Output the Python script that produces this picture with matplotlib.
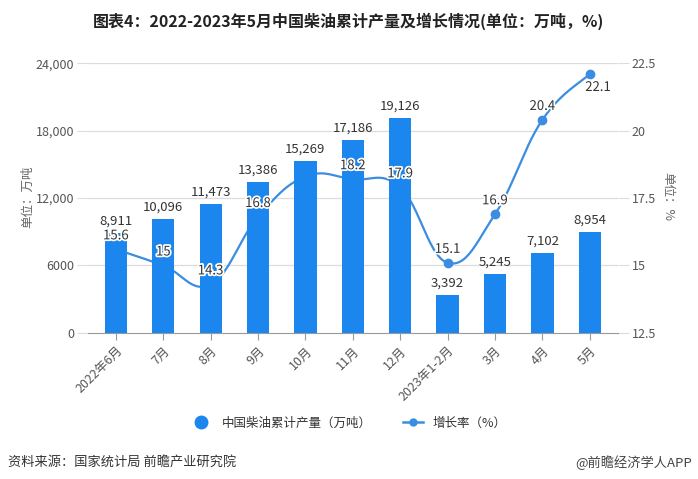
import numpy as np
import matplotlib
matplotlib.use("Agg")
import matplotlib.pyplot as plt
from matplotlib.lines import Line2D
import matplotlib.patheffects as pe

plt.rcParams['font.family'] = ['Noto Sans CJK SC', 'DejaVu Sans']

categories = ["2022年6月", "7月", "8月", "9月", "10月", "11月", "12月",
              "2023年1-2月", "3月", "4月", "5月"]
production = [8911, 10096, 11473, 13386, 15269, 17186, 19126, 3392, 5245, 7102, 8954]
growth = [15.6, 15.0, 14.3, 16.8, 18.3, 18.2, 17.9, 15.1, 16.9, 20.4, 22.1]
growth_labels = ["15.6", "15", "14.3", "16.8", "", "18.2", "17.9", "15.1", "16.9", "20.4", "22.1"]
left_ticks = [0, 6000, 12000, 18000, 24000]
left_ticklabels = ["0", "6000", "12,000", "18,000", "24,000"]
right_ticks = [12.5, 15, 17.5, 20, 22.5]
right_ticklabels = ["12.5", "15", "17.5", "20", "22.5"]

BAR = "#1a86ee"
LINE = "#3a8de0"
TXT = "#333333"
GRID = "#dcdcdc"

fig = plt.figure(figsize=(6.98, 4.79), dpi=100)
ax = fig.add_axes([0.126, 0.305, 0.759, 0.563])
ax2 = ax.twinx()
ax.set_zorder(ax2.get_zorder() + 1)
ax.patch.set_visible(False)

x = np.arange(len(categories))

# smooth curve (bezier through points)
def smooth(xs, ys, k=0.2, n=30):
    xs = np.asarray(xs, float); ys = np.asarray(ys, float)
    ox, oy = [], []
    m = len(xs)
    for i in range(m - 1):
        p0 = np.array([xs[max(i - 1, 0)], ys[max(i - 1, 0)]])
        p1 = np.array([xs[i], ys[i]])
        p2 = np.array([xs[i + 1], ys[i + 1]])
        p3 = np.array([xs[min(i + 2, m - 1)], ys[min(i + 2, m - 1)]])
        c1 = p1 + (p2 - p0) * k
        c2 = p2 - (p3 - p1) * k
        t = np.linspace(0, 1, n)[:, None]
        pts = (1 - t) ** 3 * p1 + 3 * (1 - t) ** 2 * t * c1 + 3 * (1 - t) * t ** 2 * c2 + t ** 3 * p2
        ox.extend(pts[:, 0]); oy.extend(pts[:, 1])
    return np.array(ox), np.array(oy)

sx, sy = smooth(x, growth)
ax2.plot(sx, sy, color=LINE, lw=1.6, zorder=2)
ax2.plot(x, growth, 'o', color=LINE, ms=6, zorder=3)
ax2.set_ylim(12.5, 22.5)
ax2.set_yticks(right_ticks)
ax2.set_yticklabels(right_ticklabels)

bars = ax.bar(x, production, width=0.47, color=BAR, zorder=3)
ax.set_ylim(0, 24000)
ax.set_xlim(-0.59, 10.59)
ax.set_yticks(left_ticks)
ax.set_yticklabels(left_ticklabels)
ax.set_xticks(x)
ax.set_xticklabels(categories, rotation=45, ha='right', rotation_mode='anchor')

ax2.grid(False)
for v in left_ticks[1:]:
    ax2.axhline(12.5 + v / 24000 * 10, color=GRID, lw=0.9, zorder=0)

for a in (ax, ax2):
    for s in a.spines.values():
        s.set_visible(False)
ax.spines['bottom'].set_visible(True)
ax.spines['bottom'].set_color("#999999")
ax.tick_params(axis='y', length=8, color=GRID, labelsize=9, labelcolor="#555555", pad=2)
ax2.tick_params(axis='y', length=8, color=GRID, labelsize=9, labelcolor="#555555", pad=2)
ax.tick_params(axis='x', length=5, color="#999999", labelsize=9, labelcolor="#555555", pad=3)

for xi, v in zip(x, production):
    ax.annotate(f"{v:,}", (xi, v), xytext=(0, 4), textcoords='offset points',
                ha='center', va='bottom', fontsize=9.5, color=TXT, zorder=6)

for xi, v, lab in zip(x, growth, growth_labels):
    if not lab:
        continue
    off = (0, 5)
    va = 'bottom'
    if lab == "22.1":
        off = (6, -5); va = 'top'
    t = ax.annotate(lab, (xi, v), xycoords=ax2.transData, xytext=off,
                    textcoords='offset points', ha='center', va=va,
                    fontsize=9.5, color=TXT, zorder=7)
    t.set_path_effects([pe.withStroke(linewidth=2.5, foreground='white')])

fig.text(0.040, 0.59, "单位：万吨", rotation=90, fontsize=9, color="#666666",
         ha='center', va='center')
fig.text(0.957, 0.59, "单位：%", rotation=-90, fontsize=9, color="#666666",
         ha='center', va='center')

fig.text(0.5, 0.955, "图表4：2022-2023年5月中国柴油累计产量及增长情况(单位：万吨，%)",
         ha='center', va='center', fontsize=11.5, fontweight='bold', color="#222222")

handles = [Line2D([], [], marker='o', color=BAR, ls='none', ms=9),
           Line2D([], [], marker='o', color=LINE, lw=1.8, ms=5)]
fig.legend(handles, ["中国柴油累计产量（万吨）", "增长率（%）"], loc='center',
           bbox_to_anchor=(0.5, 0.117), ncol=2, frameon=False, fontsize=9,
           handlelength=1.6, columnspacing=2.5, labelcolor="#333333")

fig.text(0.012, 0.035, "资料来源：国家统计局 前瞻产业研究院", fontsize=9.5, color="#333333",
         ha='left', va='center')
fig.text(0.992, 0.035, "@前瞻经济学人APP", fontsize=9.5, color="#444444",
         ha='right', va='center')

fig.savefig("out.png", dpi=100)
